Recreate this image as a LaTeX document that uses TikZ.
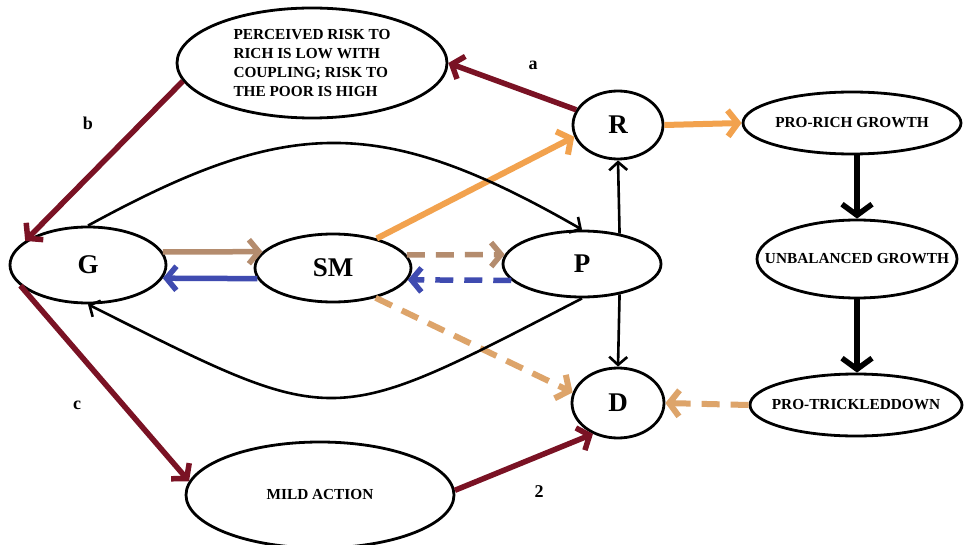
\documentclass[tikz,border=0pt]{standalone}
\usepackage{fontspec}
\setmainfont{Liberation Serif}
\usetikzlibrary{shapes.geometric,arrows.meta}
\definecolor{dred}{HTML}{7A1224}
\definecolor{lbrown}{HTML}{B48C6E}
\definecolor{lblue}{HTML}{3F4BB0}
\definecolor{lorange}{HTML}{F2A24E}
\definecolor{dorange}{HTML}{DDA46A}
\begin{document}
\begin{tikzpicture}[x=1pt,y=-1pt,
  ell/.style={draw, ellipse, line width=2.8pt, inner sep=0pt},
  big/.style={font=\fontsize{27}{27}\selectfont\bfseries},
  small/.style={font=\fontsize{15.3}{19}\selectfont\bfseries},
  lab/.style={font=\fontsize{18}{18}\selectfont\bfseries},
  dr/.style={draw=dred, line width=5.5pt, -{Straight Barb[length=10pt,width=24pt]}},
  brn/.style={draw=lbrown, line width=5.5pt, -{Straight Barb[length=10pt,width=24pt]}},
  blu/.style={draw=lblue, line width=5.5pt, -{Straight Barb[length=10pt,width=24pt]}},
  orng/.style={draw=lorange, line width=6pt, -{Straight Barb[length=10pt,width=26pt]}},
  dorng/.style={draw=dorange, line width=6pt, -{Straight Barb[length=10pt,width=26pt]}},
  dsh/.style={dash pattern=on 18pt off 11pt},
  thinb/.style={draw=black, line width=2.6pt, -{Straight Barb[length=8pt,width=18pt]}},
  thickb/.style={draw=black, line width=5.5pt, -{Straight Barb[length=11pt,width=30pt]}}
]
\useasboundingbox (0,0) rectangle (965,545);
\fill[white] (0,0) rectangle (965,545);

% nodes (ellipses sized explicitly, text set as centre labels)
\node[ell,minimum width=270pt,minimum height=110pt,
  label={[small,align=left]center:{PERCEIVED RISK TO\\RICH IS LOW WITH\\COUPLING; RISK TO\\THE POOR IS HIGH}}] (PR) at (312,63) {};
\node[ell,big,minimum width=156pt,minimum height=76pt] (G) at (88,265) {G};
\node[ell,big,minimum width=156pt,minimum height=68pt] (SM) at (333,268) {SM};
\node[ell,big,minimum width=158pt,minimum height=66pt] (P) at (582,264) {P};
\node[ell,big,minimum width=90pt,minimum height=68pt] (R) at (618,125) {R};
\node[ell,big,minimum width=92pt,minimum height=70pt] (D) at (618,403) {D};
\node[ell,minimum width=218pt,minimum height=62pt,
  label={[small]center:PRO-RICH GROWTH}] (PRG) at (852,123) {};
\node[ell,minimum width=200pt,minimum height=78pt,
  label={[small]center:UNBALANCED GROWTH}] (UG) at (857,259) {};
\node[ell,minimum width=212pt,minimum height=62pt,
  label={[small]center:PRO-TRICKLEDDOWN}] (PTD) at (856,405) {};
\node[ell,minimum width=268pt,minimum height=106pt,
  label={[small]center:MILD ACTION}] (MA) at (320,495) {};

% labels
\node[lab] (la) at (533,65) {a};
\node[lab] (lb) at (88,123) {b};
\node[lab] (lc) at (77,405) {c};
\node[lab] (l2) at (539,492) {2};

% dark red arrows
\draw[dr] (R.160) -- (PR.east);
\draw[dr] (PR.188) -- (G.159);
\draw[dr] (G.197) -- (MA.174);
\draw[dr] (MA.2) -- (D.231);

% G <-> SM
\draw[brn] (G.10) -- (SM.167);
\draw[blu] (SM.188) -- (G.-10);
% SM <-> P dashed
\draw[brn,dsh] (SM.10) -- (P.173);
\draw[blu,dsh] (P.193) -- (SM.-9);

% orange
\draw[orng] (SM.34) -- (R.195);
\draw[dorng,dsh] (SM.-35) -- (D.167);
\draw[orng] (R.east) -- (PRG.west);
\draw[dorng,dsh] (PTD.west) -- (D.east);

% black
\draw[thinb] (P.39) -- (R.south);
\draw[thinb] (P.-39) -- (D.north);
\draw[thickb] (PRG.south -| UG.north) -- (UG.north);
\draw[thickb] (UG.south) -- (UG.south |- PTD.north);
\draw[thinb] (G.north) .. controls (287,117) and (379,113) .. (P.north);
\draw[thinb] (P.south) .. controls (327,430) and (339,430) .. (G.south);
\end{tikzpicture}
\end{document}
